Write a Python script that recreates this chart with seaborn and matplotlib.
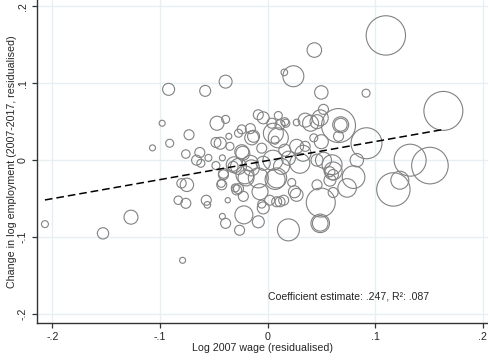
import matplotlib
matplotlib.use("Agg")
import matplotlib.pyplot as plt
import seaborn as sns
import pandas as pd

# residualised log 2007 wage (x), change in log employment 2007-2017 (y), marker weight
wage_resid = [
    -0.207, -0.153, -0.127, -0.079, -0.080, -0.075, -0.083, -0.076, -0.057, -0.056,
    -0.037, -0.043, -0.042, -0.039, -0.026, -0.022,
    -0.092, -0.058, -0.039, -0.098, -0.107, -0.091, -0.073, -0.076, -0.063, -0.066,
    -0.062, -0.055, -0.047, -0.039, -0.048, -0.044, -0.036, -0.035, -0.048, -0.042,
    -0.024, -0.023, -0.027, -0.041,
    0.110, 0.0435, 0.024, 0.0156, 0.050, 0.0916, 0.1635, 0.052, 0.066, 0.068,
    0.068, 0.092, 0.1326, 0.151, 0.117, 0.123, 0.0495, 0.049, 0.049, 0.080,
    0.083, 0.074, 0.060, 0.061, 0.046, 0.027, 0.061, 0.035, 0.046, 0.027,
    0.050, 0.043, 0.066, 0.052, 0.058, 0.030, 0.033, 0.046, 0.0194, 0.0116,
    0.0085, 0.002, -0.0054, -0.0086, -0.0225, -0.030, -0.027, -0.007, -0.0086, -0.021,
    0.0085, 0.0225, 0.058, 0.061,
    -0.0086, -0.004, 0.010, 0.0116, 0.004, 0.016, 0.049, 0.040, -0.016, -0.027,
    -0.013, 0.0054, 0.007, -0.0054, 0.027, 0.016, 0.035, 0.005, 0.0194, -0.024,
    -0.016, -0.004, 0.013, -0.032, 0.010, -0.0147, 0.017,
    -0.0426, -0.041, -0.0287, -0.020, -0.004, 0.015, -0.015, -0.031, 0.025, 0.007,
]
emp_change = [
    -0.083, -0.095, -0.074, -0.130, -0.030, -0.032, -0.052, -0.056, -0.052, -0.058,
    -0.052, -0.030, -0.073, -0.082, -0.091, -0.071,
    0.092, 0.090, 0.102, 0.048, 0.016, 0.022, 0.033, 0.008, 0.010, 0.000,
    -0.004, 0.003, 0.048, 0.053, 0.023, 0.022, 0.031, 0.018, -0.007, 0.003,
    0.040, 0.009, -0.008, -0.019,
    0.162, 0.143, 0.109, 0.114, 0.088, 0.087, 0.064, 0.066, 0.045, 0.046,
    0.046, 0.022, 0.000, -0.007, -0.038, -0.026, -0.055, -0.082, -0.082, -0.022,
    0.000, -0.036, -0.006, -0.019, -0.032, -0.045, -0.042, 0.052, 0.050, 0.049,
    0.024, 0.029, 0.031, 0.000, -0.015, -0.004, 0.009, 0.000, -0.0905, -0.054,
    -0.054, -0.052, -0.057, -0.080, -0.047, -0.036, -0.037, -0.041, -0.023, -0.019,
    -0.023, -0.029, -0.026, -0.014,
    0.059, 0.055, 0.058, 0.046, 0.048, 0.050, 0.055, 0.048, 0.041, 0.035,
    0.031, 0.035, 0.026, 0.0156, 0.018, 0.013, 0.018, 0.000, 0.0026, 0.011,
    -0.004, -0.004, -0.008, -0.008, 0.029, 0.029, 0.048,
    -0.032, -0.017, -0.0386, -0.023, -0.062, -0.052, -0.010, -0.006, -0.041, -0.025,
]
weight = [
    12, 32, 49, 9, 22, 45, 18, 25, 25, 11,
    7, 16, 9, 25, 25, 81,
    36, 30, 42, 9, 9, 16, 25, 18, 25, 25,
    16, 12, 49, 16, 25, 36, 9, 16, 16, 9,
    20, 49, 64, 25,
    388, 53, 110, 11, 45, 16, 380, 25, 289, 64,
    42, 240, 256, 335, 279, 81, 210, 86, 61, 128,
    45, 86, 100, 28, 25, 42, 25, 49, 49, 11,
    49, 16, 25, 64, 25, 100, 64, 36, 121, 25,
    25, 25, 16, 36, 25, 16, 25, 64, 100, 81,
    100, 16, 36, 81,
    25, 36, 16, 25, 25, 16, 64, 64, 25, 16,
    36, 100, 16, 25, 49, 36, 25, 100, 49, 49,
    64, 49, 64, 25, 100, 49, 16,
    25, 25, 25, 64, 36, 25, 64, 64, 36, 100,
]

coef = 0.247
intercept = -0.0005
r2 = 0.087

df = pd.DataFrame({"wage": wage_resid, "emp": emp_change, "w": weight})

sns.set_style("white")
plt.rcParams["font.family"] = ["Liberation Sans", "DejaVu Sans"]

fig = plt.figure(figsize=(4.88, 3.62), dpi=100)
ax = fig.add_axes([0.0758, 0.1086, 0.9242, 0.8914])

# marker area proportional to weight (pt^2 per unit)
k = 2.07
ax = sns.scatterplot(data=df, x="wage", y="emp", size="w",
                     sizes=(k * df.w.min(), k * df.w.max()),
                     legend=False, ax=ax, linewidth=0.8, zorder=3)
pts = ax.collections[0]
pts.set_facecolor("none")
pts.set_edgecolor("#828282")

# fitted line over the range of the data
xs = [df.wage.min(), df.wage.max()]
ax.plot(xs, [intercept + coef * v for v in xs], color="black",
        lw=1.1, linestyle=(0, (5, 2.6)), zorder=4)

ax.set_xlim(-0.2144, 0.205)
ax.set_ylim(-0.211, 0.208)
ticks = [-0.2, -0.1, 0, 0.1, 0.2]
tick_labels = ["-.2", "-.1", "0", ".1", ".2"]
ax.set_xticks(ticks, tick_labels)
ax.set_yticks(ticks, tick_labels)
plt.setp(ax.get_yticklabels(), rotation=90, va="center")
ax.grid(True, color="#e6eff1", lw=1.0, zorder=0)
ax.set_axisbelow(True)

for s in ["top", "right"]:
    ax.spines[s].set_visible(False)
for s in ["left", "bottom"]:
    ax.spines[s].set_color("#333333")
    ax.spines[s].set_linewidth(1.0)
ax.tick_params(axis="both", direction="out", length=3.5, width=0.9,
               color="#333333", labelsize=7.7, pad=3, left=True, bottom=True)

ax.set_xlabel("Log 2007 wage (residualised)", fontsize=7.7, labelpad=1)
ax.set_ylabel("Change in log employment (2007-2017, residualised)",
              fontsize=7.7, labelpad=0.8)

ax.text(0.0005, -0.177, f"Coefficient estimate: .247, R\u00b2: .087",
        fontsize=7.6, va="center", ha="left")

fig.savefig("out.png", dpi=100, facecolor="white")
